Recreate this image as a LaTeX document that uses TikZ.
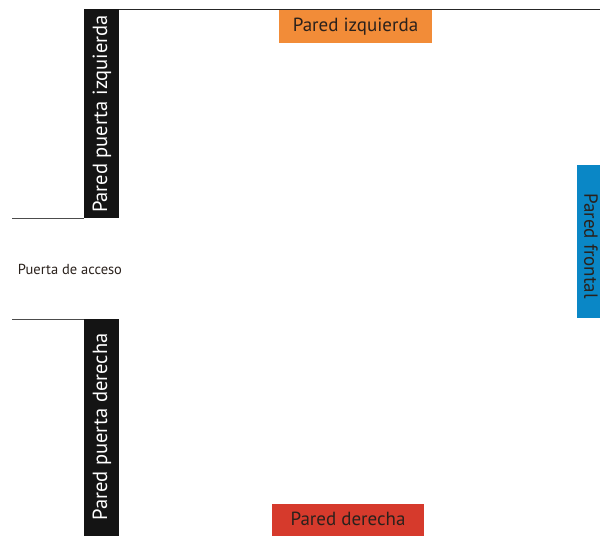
\documentclass[tikz,border=0pt]{standalone}
\usepackage{fontspec}
\setmainfont{PT Sans}
\definecolor{wallorange}{HTML}{F28C38}
\definecolor{wallred}{HTML}{D63A2C}
\definecolor{wallblue}{HTML}{0A87C6}
\definecolor{walltext}{HTML}{2A211C}
\begin{document}
\begin{tikzpicture}[x=1pt,y=-1pt,
  wallbar/.style={fill=black!92, draw=none, inner sep=0pt},
  walltag/.style={draw=none, inner sep=0pt, text=walltext, font=\fontsize{19}{19}\selectfont},
  walllab/.style={text=white, font=\fontsize{20.5}{20.5}\selectfont, rotate=90, inner sep=0pt},
  wall/.style={line width=1pt, draw=black!85}]
\useasboundingbox (0,0) rectangle (600,536);
% black door-side bars
\path[wallbar] (84,9) rectangle (119,218);
\path[wallbar] (84,319) rectangle (119,536);
\node[walllab] (ppi) at (102,114) {Pared puerta izquierda};
\node[walllab] (ppd) at (102,427) {Pared puerta derecha};
% walls
\coordinate (tl) at (119,9.5);
\coordinate (tr) at (600,9.5);
\coordinate (du1) at (12,218);
\coordinate (du2) at (84,218);
\coordinate (dl1) at (12,319);
\coordinate (dl2) at (84,319);
\draw[wall] (tl) -- (tr);
\draw[wall, draw=black!70] (du1) -- (du2);
\draw[wall, draw=black!70] (dl1) -- (dl2);
% labels
\node[walltag, fill=wallorange, minimum width=153pt, minimum height=33pt] (pi) at (355.5,26.5) {Pared izquierda};
\node[walltag, fill=wallred, minimum width=152pt, minimum height=32pt, anchor=north] (pd) at (348,504) {\raisebox{3pt}{Pared derecha}};
\path[fill=wallblue] (577,165) rectangle (600,318);
\node[walltag, rotate=-90, inner sep=0pt] (pf) at (591,246) {Pared frontal};
\node[inner sep=0pt, text=walltext, font=\fontsize{14.5}{14.5}\selectfont] (acc) at (70,269) {Puerta de acceso};
\end{tikzpicture}
\end{document}
